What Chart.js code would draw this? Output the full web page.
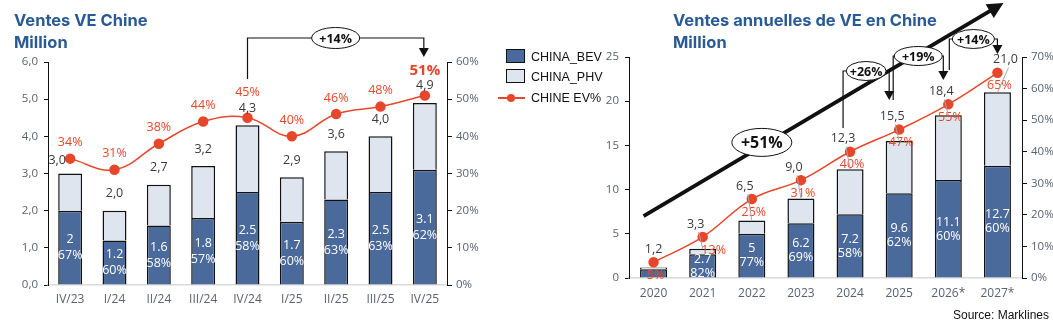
<!DOCTYPE html>
<html>
<head>
<meta charset="utf-8">
<script src="https://cdn.jsdelivr.net/npm/chart.js@4"></script>
<style>
body{margin:0;width:1053px;height:325px;background:#fff;position:relative;overflow:hidden;font-family:'Liberation Sans',Arial,sans-serif}
canvas{position:absolute;top:0}
.title{position:absolute;font:bold 16.5px Inter,sans-serif;color:#2a5a95;line-height:22px;z-index:2}
.lg{position:absolute;left:531px;font-size:12.5px;line-height:16px;color:#111;z-index:2}
.box{position:absolute;left:506px;width:19px;height:14px;box-sizing:border-box;border:1.5px solid #111;z-index:2}
#src{position:absolute;right:4px;top:308px;font-size:12px;color:#111}
</style>
</head>
<body>
<canvas id="quarterly" width="490" height="325" style="left:0"></canvas>
<canvas id="annual" width="473" height="325" style="left:580px"></canvas>

<div class="title" style="left:14px;top:9px">Ventes VE Chine<br>Million</div>
<div class="title" style="left:673px;top:9px">Ventes annuelles de VE en Chine<br>Million</div>

<div class="box" style="top:49px;background:#4a6a9b"></div>
<div class="lg" style="top:49px">CHINA_BEV</div>
<div class="box" style="top:69px;background:#dee5ef"></div>
<div class="lg" style="top:69px">CHINA_PHV</div>
<div style="position:absolute;left:498px;top:97px;width:27px;height:2px;background:#e8462a;z-index:2"></div>
<div style="position:absolute;left:507px;top:94px;width:8px;height:8px;border-radius:50%;background:#e8462a;z-index:2"></div>
<div class="lg" style="top:90px">CHINE EV%</div>

<div id="src">Source: Marklines</div>

<script>
// quarterly data (millions)
const quarters = ['IV/23', 'I/24', 'II/24', 'III/24', 'IV/24', 'I/25', 'II/25', 'III/25', 'IV/25']
const qBev = [2.0, 1.2, 1.6, 1.8, 2.5, 1.7, 2.3, 2.5, 3.1]
const qPhv = [1.0, 0.8, 1.1, 1.4, 1.8, 1.2, 1.3, 1.5, 1.8]
const qTotal = [3.0, 2.0, 2.7, 3.2, 4.3, 2.9, 3.6, 4.0, 4.9]
const qBevShare = [67, 60, 58, 57, 58, 60, 63, 63, 62]
const qEvShare = [34, 31, 38, 44, 45, 40, 46, 48, 51]

// annual data (millions)
const years = ['2020', '2021', '2022', '2023', '2024', '2025', '2026*', '2027*']
const yBev = [1.0, 2.7, 5.0, 6.2, 7.2, 9.6, 11.1, 12.7]
const yPhv = [0.2, 0.6, 1.5, 2.8, 5.1, 5.9, 7.3, 8.3]
const yTotal = [1.2, 3.3, 6.5, 9.0, 12.3, 15.5, 18.4, 21.0]
const yBevShare = [null, 82, 77, 69, 58, 62, 60, 60]
const yEvShare = [5, 13, 25, 31, 40, 47, 55, 65]

const BEV_COLOR = '#4a6a9b'
const PHV_COLOR = '#dee5ef'
const RED = '#e8462a'
const TICK = '#5a6270'
const FONT = "'Open Sans', sans-serif"

Chart.defaults.font.family = FONT
Chart.defaults.font.size = 11.5
Chart.defaults.color = TICK

const comma = v => v.toFixed(1).replace('.', ',')

function text(ctx, str, x, y, font, color){
	ctx.save()
	ctx.font = font
	ctx.fillStyle = color
	ctx.textAlign = 'center'
	ctx.textBaseline = 'middle'
	ctx.fillText(str, x, y)
	ctx.restore()
}

// category labels under the x axis, placed by the x scale
function categoryLabels(chart, gap){
	const x = chart.scales.x
	chart.data.labels.forEach(function(lab, i){
		text(chart.ctx, lab, x.getPixelForValue(i), chart.chartArea.bottom + gap, '12px ' + FONT, TICK)
	})
}

function ellipseLabel(ctx, cx, cy, rx, ry, str, size){
	ctx.save()
	ctx.beginPath()
	ctx.ellipse(cx, cy, rx, ry, 0, 0, Math.PI * 2)
	ctx.fillStyle = '#fff'
	ctx.fill()
	ctx.lineWidth = 1
	ctx.strokeStyle = '#111'
	ctx.stroke()
	ctx.restore()
	text(ctx, str, cx, cy + 1, 'bold ' + size + 'px ' + FONT, '#111')
}

function arrowHead(ctx, x, y, angle, len, half){
	ctx.save()
	ctx.translate(x, y)
	ctx.rotate(angle)
	ctx.beginPath()
	ctx.moveTo(0, 0)
	ctx.lineTo(-len, -half)
	ctx.lineTo(-len, half)
	ctx.closePath()
	ctx.fillStyle = '#111'
	ctx.fill()
	ctx.restore()
}

// bracket: up from (x1,y1) to level, across to x2, down to arrow tip y2
function bracket(ctx, x1, y1, x2, y2, level, str, rx, ry, size){
	ctx.save()
	ctx.strokeStyle = '#111'
	ctx.lineWidth = 1.2
	ctx.beginPath()
	ctx.moveTo(x1, y1)
	ctx.lineTo(x1, level)
	ctx.lineTo(x2, level)
	ctx.lineTo(x2, y2 - 8)
	ctx.stroke()
	ctx.restore()
	arrowHead(ctx, x2, y2, Math.PI / 2, 9, 5)
	ellipseLabel(ctx, (x1 + x2) / 2, level, rx, ry, str, size)
}

function axes(yMax, yStep, yFmt, y1Max, widths){
	return {
		x: {
			stacked: true,
			grid: {display: false},
			border: {color: '#d9d9d9', width: 1.5},
			ticks: {display: false},
			afterFit(s){ s.height = widths.xH }
		},
		y: {
			stacked: true,
			min: 0, max: yMax,
			grid: {drawOnChartArea: false, tickLength: 4, color: '#111'},
			border: {color: '#111', width: 1},
			ticks: {stepSize: yStep, padding: 6, color: TICK, callback: yFmt},
			afterFit(s){ s.width = widths.yW }
		},
		y1: {
			position: 'right',
			min: 0, max: y1Max,
			grid: {drawOnChartArea: false, tickLength: 5, color: '#111'},
			border: {color: '#111', width: 1},
			ticks: {stepSize: 10, padding: 4, color: TICK, callback: v => v + '%'},
			afterFit(s){ s.width = widths.y1W }
		}
	}
}

function datasets(bev, phv, ev, barPct){
	return [
		{type: 'line', label: 'CHINE EV%', data: ev, yAxisID: 'y1', order: 0,
			borderColor: RED, backgroundColor: RED, borderWidth: 1.5, tension: 0.4,
			pointRadius: 4.5, pointBackgroundColor: RED, pointBorderColor: RED},
		{label: 'CHINA_BEV', data: bev, backgroundColor: BEV_COLOR, borderColor: '#111',
			borderWidth: 1.5, order: 1, stack: 's', barPercentage: barPct, categoryPercentage: 1},
		{label: 'CHINA_PHV', data: phv, backgroundColor: PHV_COLOR, borderColor: '#111',
			borderWidth: 1.5, order: 1, stack: 's', barPercentage: barPct, categoryPercentage: 1}
	]
}

function bevLabels(chart, bev, share, gap){
	const ctx = chart.ctx, x = chart.scales.x, y = chart.scales.y
	bev.forEach(function(v, i){
		if (share[i] == null) return
		const cx = x.getPixelForValue(i)
		const mid = (y.getPixelForValue(0) + y.getPixelForValue(v)) / 2
		text(ctx, String(v), cx, mid - gap, '12.5px ' + FONT, '#fff')
		text(ctx, share[i] + '%', cx, mid + gap, '12.5px ' + FONT, '#fff')
	})
}

// left chart: quarterly
const quarterlyLabels = {
	id: 'quarterlyLabels',
	afterDatasetsDraw(chart){
		const ctx = chart.ctx, x = chart.scales.x, y = chart.scales.y, y1 = chart.scales.y1
		const last = qEvShare.length - 1
		qEvShare.forEach(function(v, i){
			const font = i == last ? 'bold 15px ' + FONT : '12.5px ' + FONT
			const lift = (i == 4 || i == last) ? 25 : 16
			text(ctx, v + '%', x.getPixelForValue(i), y1.getPixelForValue(v) - lift, font, RED)
		})
		qTotal.forEach(function(v, i){
			const top = y.getPixelForValue(v)
			const cx = x.getPixelForValue(i)
			if (i == 0) text(ctx, comma(v), cx - 13, top - 13, '12.5px ' + FONT, '#3a3a3a')
			else text(ctx, comma(v), cx, top - 17, '12.5px ' + FONT, '#3a3a3a')
		})
		bevLabels(chart, qBev, qBevShare, 8)
	},
	afterDraw(chart){
		const ctx = chart.ctx, x = chart.scales.x
		bracket(ctx, x.getPixelForValue(4), 79, x.getPixelForValue(8) - 1, 57, 38, '+14%', 24, 10.5, 12.5)
		categoryLabels(chart, 15)
	}
}

new Chart(document.getElementById('quarterly'), {
	type: 'bar',
	data: {labels: quarters, datasets: datasets(qBev, qPhv, qEvShare, 0.54)},
	options: {
		responsive: false,
		animation: false,
		events: [],
		layout: {padding: {top: 62, left: 0, right: 0, bottom: 0}},
		plugins: {legend: {display: false}, tooltip: {enabled: false}},
		scales: axes(6, 1, v => comma(v), 60, {xH: 40, yW: 48, y1W: 43})
	},
	plugins: [quarterlyLabels]
})

// right chart: annual
const annualLabels = {
	id: 'annualLabels',
	afterDatasetsDraw(chart){
		const ctx = chart.ctx, x = chart.scales.x, y = chart.scales.y, y1 = chart.scales.y1
		yEvShare.forEach(function(v, i){
			const py = y1.getPixelForValue(v)
			const dx = i == 1 ? 11 : 2
			text(ctx, v + '%', x.getPixelForValue(i) + dx, py + 13, '12.5px ' + FONT, RED)
		})
		yTotal.forEach(function(v, i){
			const cx = x.getPixelForValue(i)
			const top = y.getPixelForValue(v)
			const py = y1.getPixelForValue(yEvShare[i])
			const ly = Math.min(top - 17, py - 13)
			const lx = i == 0 ? cx : (i == yTotal.length - 1 ? cx + 8 : cx - 7)
			if (i > 0){
				ctx.save()
				ctx.strokeStyle = '#a6a6a6'
				ctx.lineWidth = 1
				ctx.beginPath()
				ctx.moveTo(lx + 3, ly + 8)
				ctx.lineTo(cx, top)
				ctx.stroke()
				ctx.restore()
			}
			text(ctx, comma(v), lx, ly, '12.5px ' + FONT, '#3a3a3a')
		})
		bevLabels(chart, yBev, yBevShare, 7)
	},
	afterDraw(chart){
		const ctx = chart.ctx, x = chart.scales.x, y = chart.scales.y
		// long growth arrow
		const sx = x.getPixelForValue(0) - 10, sy = y.getPixelForValue(7)
		const ex = x.getPixelForValue(7) + 6, ey = chart.chartArea.top - 54
		const ang = Math.atan2(ey - sy, ex - sx)
		ctx.save()
		ctx.strokeStyle = '#111'
		ctx.lineWidth = 4
		ctx.beginPath()
		ctx.moveTo(sx, sy)
		ctx.lineTo(ex - 12 * Math.cos(ang), ey - 12 * Math.sin(ang))
		ctx.stroke()
		ctx.restore()
		arrowHead(ctx, ex, ey, ang, 16, 8)
		ellipseLabel(ctx, x.getPixelForValue(2) + 10, y.getPixelForValue(15) - 3, 30, 14, '+51%', 16)
		// year on year brackets
		bracket(ctx, x.getPixelForValue(4) - 7, 128, x.getPixelForValue(5) - 10, 100, 71, '+26%', 20, 9.5, 12.5)
		bracket(ctx, x.getPixelForValue(5) - 6, 100, x.getPixelForValue(6) - 5, 80, 56, '+19%', 24, 9.5, 12.5)
		bracket(ctx, x.getPixelForValue(6) + 1, 70, x.getPixelForValue(7), 54, 39, '+14%', 21, 9.5, 12.5)
		categoryLabels(chart, 16)
	}
}

new Chart(document.getElementById('annual'), {
	type: 'bar',
	data: {labels: years, datasets: datasets(yBev, yPhv, yEvShare, 0.55)},
	options: {
		responsive: false,
		animation: false,
		events: [],
		layout: {padding: {top: 57, left: 0, right: 0, bottom: 0}},
		plugins: {legend: {display: false}, tooltip: {enabled: false}},
		scales: axes(25, 5, v => v, 70, {xH: 47, yW: 49, y1W: 31})
	},
	plugins: [annualLabels]
})
</script>
</body>
</html>
